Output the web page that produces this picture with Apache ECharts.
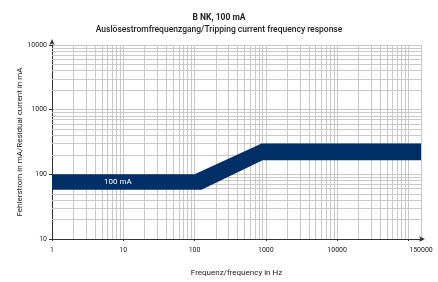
<!DOCTYPE html>
<html>
<head>
<meta charset="utf-8">
<script src="https://cdn.jsdelivr.net/npm/echarts@6/dist/echarts.min.js"></script>
<style>
  html, body { margin: 0; padding: 0; background: #fff; }
  #main { width: 438px; height: 282px; }
</style>
</head>
<body>
<div id="main"></div>
<script>
// Frequenzgang-Band (obere und untere Grenze), Werte in Hz / mA
const upperFreq = [1, 100, 870, 150000]
const upperCurrent = [100, 100, 300, 300]
const lowerFreq = [1, 125, 900, 150000]
const lowerCurrent = [58, 58, 165, 165]

const bandLabel = '100 mA'
const bandLabelAt = [8.4, 75]

const xTickLabels = [1, 10, 100, 1000, 10000, 150000]
const yTickLabels = [10, 100, 1000, 10000]
const mantissas = [2, 3, 4, 5, 6, 7, 8, 9]
const xDecades = [1, 10, 100, 1000, 10000]
const yDecades = [10, 100, 1000]

// Zwischenlinien 2..9 je Dekade
const xMinor = []
xDecades.forEach(d => mantissas.forEach(m => xMinor.push(m * d)))
const yMinor = []
yDecades.forEach(d => mantissas.forEach(m => yMinor.push(m * d)))

const gridColor = '#c9c9c9'
const bandColor = '#002f68'
const font = 'Roboto'

const chart = echarts.init(document.getElementById('main'))

const option = {
  animation: false,
  title: [
    {
      text: 'B NK, 100 mA',
      left: 'center',
      top: 8,
      textStyle: { fontFamily: font, fontSize: 8.5, fontWeight: 'bold', color: '#222' }
    },
    {
      text: 'Auslösestromfrequenzgang/Tripping current frequency response',
      left: 'center',
      top: 20,
      textStyle: { fontFamily: font, fontSize: 8.5, fontWeight: 500, color: '#222' }
    }
  ],
  grid: { left: 52, right: 17, top: 45, bottom: 42 },
  xAxis: {
    type: 'log',
    logBase: 10,
    min: 1,
    max: 150000,
    name: 'Frequenz/frequency in Hz',
    nameLocation: 'middle',
    nameGap: 30,
    nameMoveOverlap: false,
    nameTextStyle: { fontFamily: font, fontSize: 8, color: '#222' },
    axisLine: {
      lineStyle: { color: '#333', width: 1 },
      symbol: ['none', 'arrow'],
      symbolSize: [4, 6],
      symbolOffset: [0, 4]
    },
    axisTick: { show: true, length: 2, lineStyle: { color: '#333' } },
    axisLabel: {
      fontFamily: font,
      fontSize: 7,
      color: '#222',
      margin: 8,
      formatter: v => {
        const r = Math.round(v)
        return xTickLabels.indexOf(r) >= 0 ? String(r) : ''
      }
    },
    splitLine: { show: true, lineStyle: { color: gridColor, width: 1 } }
  },
  yAxis: {
    type: 'log',
    logBase: 10,
    min: 10,
    max: 10000,
    name: 'Fehlerstrom in mA/Residual current in mA',
    nameLocation: 'middle',
    nameGap: 28,
    nameMoveOverlap: false,
    nameTextStyle: { fontFamily: font, fontSize: 8, color: '#222' },
    axisLine: {
      show: true,
      lineStyle: { color: '#333', width: 1 },
      symbol: ['none', 'arrow'],
      symbolSize: [4, 6],
      symbolOffset: [0, 6]
    },
    axisTick: { show: true, length: 3, lineStyle: { color: '#333' } },
    axisLabel: {
      fontFamily: font,
      fontSize: 7,
      color: '#222',
      margin: 5,
      formatter: v => {
        const r = Math.round(v)
        return yTickLabels.indexOf(r) >= 0 ? String(r) : ''
      }
    },
    splitLine: { show: true, lineStyle: { color: gridColor, width: 1 } }
  },
  series: [
    {
      name: 'grid',
      type: 'line',
      data: [],
      z: 1,
      silent: true,
      markLine: {
        silent: true,
        symbol: 'none',
        animation: false,
        z: 1,
        label: { show: false },
        lineStyle: { color: gridColor, width: 1, type: 'solid' },
        data: xMinor.map(v => ({ xAxis: v })).concat(yMinor.map(v => ({ yAxis: v })))
      }
    },
    {
      name: 'Band',
      type: 'custom',
      z: 20,
      silent: true,
      data: [0],
      renderItem: (params, api) => {
        const points = []
        upperFreq.forEach((f, i) => points.push(api.coord([f, upperCurrent[i]])))
        for (let i = lowerFreq.length - 1; i >= 0; i--) {
          points.push(api.coord([lowerFreq[i], lowerCurrent[i]]))
        }
        const lp = api.coord(bandLabelAt)
        return {
          type: 'group',
          children: [
            { type: 'polygon', shape: { points }, style: { fill: bandColor } },
            {
              type: 'text',
              x: lp[0],
              y: lp[1],
              style: {
                text: bandLabel,
                fill: '#fff',
                font: '8px ' + font,
                align: 'center',
                verticalAlign: 'middle'
              }
            }
          ]
        }
      }
    }
  ]
}

chart.setOption(option)
window.addEventListener('resize', () => {
  chart.resize()
})
</script>
</body>
</html>
